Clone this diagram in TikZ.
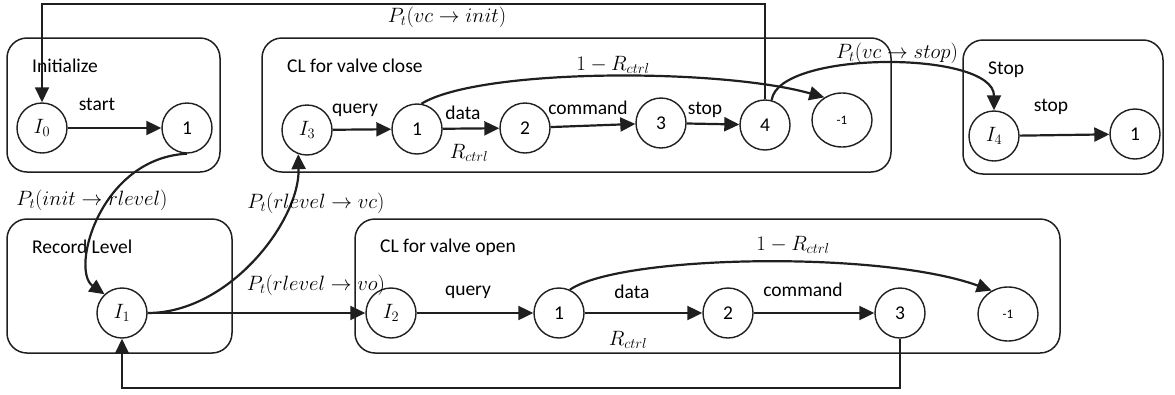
\documentclass[tikz,border=0pt]{standalone}
\usepackage{fontspec}
\setmainfont{Carlito}
\usetikzlibrary{arrows.meta,shapes.geometric}

\begin{document}
\begin{tikzpicture}[x=1pt,y=-1pt,
  ink/.style={draw=black!88},
  group/.style={ink, rounded corners=20pt, line width=1.5pt, inner sep=0pt},
  state/.style={ink, circle, line width=1.4pt, minimum size=50pt, inner sep=0pt,
    font=\fontsize{19.5}{22}\selectfont},
  sink/.style={ink, ellipse, line width=1.4pt, minimum width=60pt, minimum height=54pt,
    inner sep=0pt, font=\fontsize{13}{15}\selectfont},
  title/.style={anchor=west, inner sep=0pt, font=\fontsize{19.5}{22}\selectfont},
  lab/.style={inner sep=0pt, font=\fontsize{19.5}{22}\selectfont},
  tip/.style={-{Triangle[length=15pt,width=14pt]}},
  arr/.style={draw=black!88, line width=2.2pt, tip},
  link/.style={draw=black!88, line width=1.6pt},
  linkarr/.style={link, tip}]

\useasboundingbox (0,0) rectangle (1175,394);

% ---- group frames ----
\node[group, minimum width=213pt, minimum height=134pt] (gInit)  at (113.5,105) {};
\node[group, minimum width=629pt, minimum height=134pt] (gClose) at (576.5,105) {};
\node[group, minimum width=200pt, minimum height=134pt] (gStop)  at (1063,107) {};
\node[group, minimum width=225pt, minimum height=134pt] (gRec)   at (119.5,286) {};
\node[group, minimum width=705pt, minimum height=134pt] (gOpen)  at (707.5,286) {};

\node[title] (tInit)  at (32,66)   {Initialize};
\node[title] (tClose) at (287,66)  {CL for valve close};
\node[title] (tStop)  at (988,70)  {Stop};
\node[title] (tRec)   at (32,247)  {Record Level};
\node[title] (tOpen)  at (380,247) {CL for valve open};

% ---- initialize ----
\node[state] (i0) at (42,128)  {$I_0$};
\node[state] (a1) at (187,128) {1};
\draw[arr] (i0) -- (a1);
\node[lab] (lStart) at (97,104) {start};

% ---- valve close ----
\node[state] (i3) at (307,130) {$I_3$};
\node[state] (c1) at (417,129) {1};
\node[state] (c2) at (525,128) {2};
\node[state] (c3) at (661,123) {3};
\node[state] (c4) at (765,125) {4};
\node[sink]  (cm) at (842,120) {-1};
\draw[arr] (i3) -- (c1);
\draw[arr] (c1) -- (c2);
\draw[arr] (c2) -- (c3);
\draw[arr] (c3) -- (c4);
\draw[arr] (c1.80) .. controls (480,68) and (720,68) .. (cm.128);
\node[lab] (lq1)  at (355,110) {query};
\node[lab] (ld1)  at (463,113) {data};
\node[lab] (lr1)  at (469,153) {$R_{ctrl}$};
\node[lab] (lc1)  at (588,108) {command};
\node[lab] (ls1)  at (705,110) {stop};
\node[lab] (lf1)  at (613,65)  {$1-R_{ctrl}$};

% ---- stop ----
\node[state] (i4) at (994,136)  {$I_4$};
\node[state] (s1) at (1135,134) {1};
\draw[arr] (i4) -- (s1);
\node[lab] (ls2) at (1051,107) {stop};
\draw[arr] (c4.75) .. controls (778,50) and (i4.north |- 0,50) .. (i4.north);
\node[lab] (lvs) at (897,53) {$P_t(vc\rightarrow stop)$};

% ---- record level ----
\node[state] (i1) at (122,313) {$I_1$};

% ---- valve open ----
\node[state] (i2) at (391,313)  {$I_2$};
\node[state] (o1) at (559,313)  {1};
\node[state] (o2) at (728,313)  {2};
\node[state] (o3) at (900,313)  {3};
\node[sink]  (om) at (1008,314) {-1};
\draw[arr] (i2) -- (o1);
\draw[arr] (o1) -- (o2);
\draw[arr] (o2) -- (o3);
\draw[arr] (o1.65) .. controls (620,255) and (880,250) .. (om.125);
\node[lab] (lq2) at (468,292) {query};
\node[lab] (ld2) at (632,292) {data};
\node[lab] (lr2) at (628,340) {$R_{ctrl}$};
\node[lab] (lc2) at (803,290) {command};
\node[lab] (lf2) at (793,245) {$1-R_{ctrl}$};

% ---- transitions between groups ----
\draw[arr] (a1.south) .. controls (100,158) and (70,270) .. (i1.133);
\draw[arr] (i1.east) .. controls (230,313) and (300,220) .. (i3.250);
\draw[arr] (i1) -- (i2);

\coordinate (topY) at (0,4);
\coordinate (botY) at (0,388);
\draw[linkarr] (c4.north) -- (c4.north |- topY) -| (i0.north);
\draw[linkarr] (o3.south) -- (o3.south |- botY) -| (i1.south);

\node[lab] (lvi) at (447,17)  {$P_t(vc\rightarrow init)$};
\node[lab] (lir) at (92,200)  {$P_t(init\rightarrow rlevel)$};
\node[lab] (lrc) at (316,203) {$P_t(rlevel\rightarrow vc)$};
\node[lab] (lro) at (316,285) {$P_t(rlevel\rightarrow vo)$};

\end{tikzpicture}
\end{document}
